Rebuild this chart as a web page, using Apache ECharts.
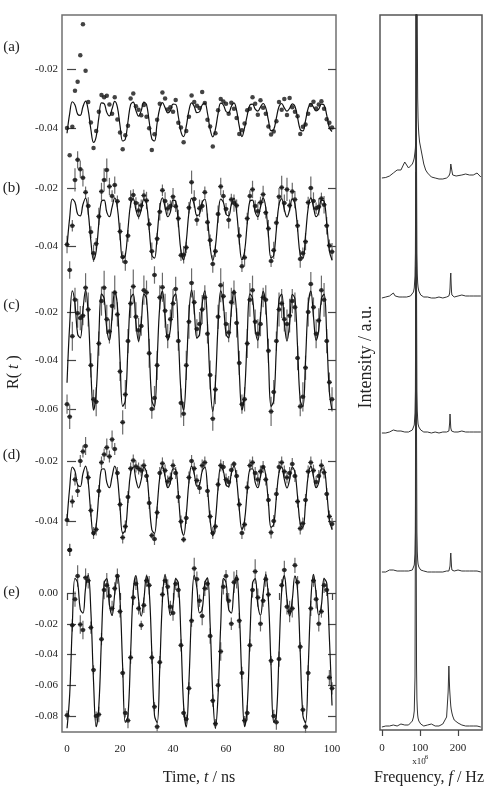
<!DOCTYPE html>
<html>
<head>
<meta charset="utf-8">
<script src="https://cdn.jsdelivr.net/npm/echarts@6/dist/echarts.min.js"></script>
<style>
html, body { margin: 0; padding: 0; background: #fff; }
#chart { width: 488px; height: 790px; }
</style>
</head>
<body>
<div id="chart"></div>
<script>
// time of every sample, ns
var timeNs = [0,1,2,3,4,5,6,7,8,9,10,11,12,13,14,15,16,17,18,19,20,21,22,23,24,25,26,27,28,29,30,
  31,32,33,34,35,36,37,38,39,40,41,42,43,44,45,46,47,48,49,50,51,52,53,54,55,56,57,58,59,60,
  61,62,63,64,65,66,67,68,69,70,71,72,73,74,75,76,77,78,79,80,81,82,83,84,85,86,87,88,89,90,
  91,92,93,94,95,96,97,98,99,100];

// (a) fit and measured R(t)
var fitA = [-0.0418,-0.0351,-0.0311,-0.0322,-0.0353,-0.0357,-0.0328,-0.0309,-0.0340,-0.0405,
  -0.0449,-0.0429,-0.0365,-0.0315,-0.0317,-0.0347,-0.0359,-0.0335,-0.0310,-0.0329,
  -0.0392,-0.0444,-0.0438,-0.0378,-0.0321,-0.0312,-0.0341,-0.0360,-0.0341,-0.0312,
  -0.0321,-0.0378,-0.0437,-0.0444,-0.0383,-0.0333,-0.0314,-0.0331,-0.0349,-0.0341,
  -0.0319,-0.0320,-0.0361,-0.0413,-0.0429,-0.0394,-0.0341,-0.0315,-0.0327,-0.0348,
  -0.0345,-0.0322,-0.0316,-0.0350,-0.0404,-0.0430,-0.0404,-0.0351,-0.0316,-0.0322,
  -0.0344,-0.0348,-0.0327,-0.0315,-0.0341,-0.0394,-0.0429,-0.0399,-0.0357,-0.0322,
  -0.0319,-0.0336,-0.0343,-0.0329,-0.0317,-0.0332,-0.0374,-0.0409,-0.0405,-0.0366,
  -0.0327,-0.0317,-0.0332,-0.0343,-0.0333,-0.0318,-0.0326,-0.0365,-0.0405,-0.0410,
  -0.0375,-0.0333,-0.0317,-0.0329,-0.0342,-0.0336,-0.0319,-0.0322,-0.0356,-0.0399,-0.0412];
var dataA = [-0.0400,-0.0492,-0.0396,-0.0274,-0.0243,-0.0153,-0.0048,-0.0206,-0.0312,-0.0381,
  -0.0468,-0.0410,-0.0345,-0.0288,-0.0296,-0.0291,-0.0320,-0.0352,-0.0296,-0.0371,
  -0.0415,-0.0472,-0.0425,-0.0392,-0.0300,-0.0283,-0.0326,-0.0338,-0.0357,-0.0322,
  -0.0362,-0.0401,-0.0475,-0.0421,-0.0372,-0.0318,-0.0280,-0.0300,-0.0337,-0.0330,
  -0.0345,-0.0305,-0.0382,-0.0398,-0.0448,-0.0410,-0.0362,-0.0290,-0.0312,-0.0325,
  -0.0332,-0.0278,-0.0315,-0.0372,-0.0395,-0.0463,-0.0418,-0.0340,-0.0302,-0.0310,
  -0.0318,-0.0352,-0.0314,-0.0335,-0.0366,-0.0420,-0.0408,-0.0385,-0.0340,-0.0335,
  -0.0296,-0.0318,-0.0355,-0.0306,-0.0331,-0.0352,-0.0395,-0.0422,-0.0412,-0.0377,
  -0.0312,-0.0338,-0.0302,-0.0356,-0.0298,-0.0330,-0.0345,-0.0360,-0.0420,-0.0396,
  -0.0388,-0.0352,-0.0322,-0.0311,-0.0334,-0.0320,-0.0309,-0.0335,-0.0370,-0.0382,-0.0398];

// (b)
var fitB = [-0.0402,-0.0302,-0.0238,-0.0249,-0.0290,-0.0296,-0.0257,-0.0235,-0.0284,-0.0383,
  -0.0448,-0.0418,-0.0322,-0.0245,-0.0242,-0.0283,-0.0299,-0.0266,-0.0234,-0.0268,
  -0.0363,-0.0442,-0.0432,-0.0342,-0.0255,-0.0237,-0.0275,-0.0300,-0.0275,-0.0237,
  -0.0255,-0.0342,-0.0431,-0.0442,-0.0363,-0.0268,-0.0234,-0.0266,-0.0299,-0.0283,
  -0.0242,-0.0245,-0.0321,-0.0418,-0.0448,-0.0384,-0.0284,-0.0235,-0.0257,-0.0295,
  -0.0290,-0.0249,-0.0238,-0.0302,-0.0401,-0.0450,-0.0402,-0.0303,-0.0238,-0.0249,
  -0.0290,-0.0296,-0.0257,-0.0235,-0.0283,-0.0382,-0.0448,-0.0419,-0.0322,-0.0245,
  -0.0242,-0.0283,-0.0299,-0.0266,-0.0234,-0.0268,-0.0362,-0.0441,-0.0432,-0.0343,
  -0.0256,-0.0237,-0.0274,-0.0300,-0.0275,-0.0237,-0.0255,-0.0341,-0.0431,-0.0442,
  -0.0364,-0.0269,-0.0234,-0.0266,-0.0299,-0.0283,-0.0242,-0.0245,-0.0321,-0.0417,-0.0448];
var dataB = [-0.0395,-0.0483,-0.0330,-0.0172,-0.0103,-0.0135,-0.0165,-0.0215,-0.0262,-0.0352,
  -0.0425,-0.0392,-0.0298,-0.0212,-0.0172,-0.0138,-0.0195,-0.0228,-0.0190,-0.0246,
  -0.0350,-0.0438,-0.0455,-0.0365,-0.0238,-0.0224,-0.0252,-0.0278,-0.0260,-0.0226,
  -0.0243,-0.0325,-0.0418,-0.0500,-0.0375,-0.0282,-0.0208,-0.0245,-0.0271,-0.0262,
  -0.0230,-0.0263,-0.0305,-0.0432,-0.0430,-0.0405,-0.0268,-0.0180,-0.0238,-0.0310,
  -0.0270,-0.0262,-0.0215,-0.0318,-0.0380,-0.0462,-0.0418,-0.0290,-0.0195,-0.0228,
  -0.0272,-0.0310,-0.0240,-0.0252,-0.0260,-0.0365,-0.0470,-0.0440,-0.0305,-0.0228,
  -0.0205,-0.0262,-0.0280,-0.0250,-0.0222,-0.0285,-0.0340,-0.0452,-0.0415,-0.0320,
  -0.0230,-0.0198,-0.0252,-0.0205,-0.0260,-0.0212,-0.0240,-0.0330,-0.0445,-0.0425,
  -0.0385,-0.0250,-0.0200,-0.0245,-0.0270,-0.0265,-0.0236,-0.0258,-0.0330,-0.0398,-0.0420];
// error half-widths, units of 0.001
var errB = [3,3,2,4,3,3,3,2,3,2, 3,2,3,3,4,4,3,2,3,2, 3,2,3,2,3,2,2,3,2,2, 3,2,3,3,2,3,2,3,2,2,
  3,2,3,2,3,2,2,4,3,2, 3,2,2,3,2,3,2,3,3,2, 2,3,2,3,2,3,2,3,2,2, 3,2,3,2,3,2,3,2,3,2,
  3,4,3,4,2,3,3,2,3,2, 3,2,4,3,2,3,2,3,3,2, 3];

// (c)
var fitC = [-0.0492,-0.0252,-0.0113,-0.0167,-0.0291,-0.0307,-0.0193,-0.0110,-0.0210,-0.0446,
  -0.0605,-0.0532,-0.0299,-0.0125,-0.0144,-0.0270,-0.0317,-0.0220,-0.0114,-0.0174,
  -0.0397,-0.0589,-0.0565,-0.0348,-0.0146,-0.0126,-0.0246,-0.0320,-0.0246,-0.0126,
  -0.0145,-0.0347,-0.0564,-0.0590,-0.0398,-0.0175,-0.0114,-0.0219,-0.0317,-0.0271,
  -0.0145,-0.0125,-0.0297,-0.0531,-0.0605,-0.0447,-0.0210,-0.0110,-0.0192,-0.0307,
  -0.0292,-0.0167,-0.0113,-0.0251,-0.0490,-0.0610,-0.0493,-0.0253,-0.0113,-0.0166,
  -0.0290,-0.0307,-0.0193,-0.0110,-0.0209,-0.0445,-0.0604,-0.0533,-0.0300,-0.0125,
  -0.0143,-0.0270,-0.0317,-0.0220,-0.0115,-0.0173,-0.0396,-0.0589,-0.0565,-0.0349,
  -0.0147,-0.0126,-0.0245,-0.0320,-0.0247,-0.0127,-0.0145,-0.0346,-0.0564,-0.0590,
  -0.0400,-0.0175,-0.0114,-0.0219,-0.0317,-0.0272,-0.0145,-0.0126,-0.0297,-0.0530,-0.0605];
var dataC = [-0.0580,-0.0632,-0.0300,-0.0150,-0.0205,-0.0225,-0.0215,-0.0100,-0.0190,-0.0420,
  -0.0560,-0.0570,-0.0330,-0.0155,-0.0100,-0.0230,-0.0280,-0.0175,-0.0120,-0.0210,
  -0.0445,-0.0655,-0.0540,-0.0320,-0.0165,-0.0095,-0.0220,-0.0275,-0.0258,-0.0110,
  -0.0120,-0.0370,-0.0600,-0.0555,-0.0420,-0.0140,-0.0098,-0.0195,-0.0300,-0.0230,
  -0.0165,-0.0105,-0.0320,-0.0575,-0.0620,-0.0420,-0.0240,-0.0080,-0.0160,-0.0270,
  -0.0250,-0.0190,-0.0140,-0.0290,-0.0460,-0.0640,-0.0520,-0.0220,-0.0090,-0.0135,
  -0.0250,-0.0285,-0.0160,-0.0120,-0.0245,-0.0410,-0.0580,-0.0560,-0.0330,-0.0150,
  -0.0110,-0.0240,-0.0290,-0.0250,-0.0140,-0.0150,-0.0360,-0.0610,-0.0530,-0.0320,
  -0.0190,-0.0165,-0.0230,-0.0250,-0.0215,-0.0155,-0.0180,-0.0390,-0.0590,-0.0550,
  -0.0430,-0.0200,-0.0085,-0.0180,-0.0290,-0.0235,-0.0110,-0.0150,-0.0320,-0.0490,-0.0560];
var errC = [4,5,6,5,6,5,4,6,7,5, 4,6,5,6,7,6,5,6,7,5, 4,5,6,5,6,7,6,5,4,6, 5,6,4,5,6,5,6,7,5,4,
  6,5,4,6,5,6,7,6,5,4, 5,6,5,4,6,5,6,5,7,6, 5,4,6,5,6,5,4,5,6,7, 6,5,6,5,4,6,5,6,5,4,
  7,6,5,6,7,5,6,5,4,6, 5,6,5,4,6,5,6,7,5,4, 5];

// (d)
var fitD = [-0.0398,-0.0289,-0.0220,-0.0234,-0.0279,-0.0285,-0.0242,-0.0217,-0.0270,-0.0377,
  -0.0448,-0.0415,-0.0311,-0.0228,-0.0226,-0.0271,-0.0289,-0.0252,-0.0217,-0.0253,
  -0.0355,-0.0441,-0.0430,-0.0333,-0.0239,-0.0220,-0.0262,-0.0290,-0.0262,-0.0220,
  -0.0239,-0.0333,-0.0429,-0.0441,-0.0355,-0.0253,-0.0217,-0.0252,-0.0289,-0.0271,
  -0.0226,-0.0228,-0.0310,-0.0415,-0.0448,-0.0378,-0.0270,-0.0217,-0.0242,-0.0284,
  -0.0279,-0.0234,-0.0220,-0.0289,-0.0397,-0.0450,-0.0398,-0.0290,-0.0220,-0.0234,
  -0.0279,-0.0285,-0.0242,-0.0217,-0.0262,-0.0360,-0.0428,-0.0398,-0.0300,-0.0228,
  -0.0226,-0.0271,-0.0289,-0.0252,-0.0217,-0.0249,-0.0340,-0.0421,-0.0411,-0.0321,
  -0.0238,-0.0220,-0.0261,-0.0290,-0.0262,-0.0220,-0.0237,-0.0320,-0.0410,-0.0421,
  -0.0342,-0.0249,-0.0217,-0.0252,-0.0289,-0.0271,-0.0226,-0.0228,-0.0299,-0.0396,-0.0428];
var dataD = [-0.0397,-0.0497,-0.0335,-0.0262,-0.0300,-0.0200,-0.0168,-0.0150,-0.0255,-0.0365,
  -0.0440,-0.0428,-0.0300,-0.0205,-0.0178,-0.0155,-0.0185,-0.0128,-0.0160,-0.0240,
  -0.0345,-0.0455,-0.0418,-0.0320,-0.0225,-0.0198,-0.0218,-0.0225,-0.0232,-0.0215,
  -0.0250,-0.0340,-0.0448,-0.0460,-0.0372,-0.0240,-0.0208,-0.0232,-0.0268,-0.0258,
  -0.0215,-0.0240,-0.0320,-0.0402,-0.0462,-0.0390,-0.0255,-0.0200,-0.0225,-0.0265,
  -0.0290,-0.0215,-0.0205,-0.0300,-0.0385,-0.0440,-0.0418,-0.0278,-0.0215,-0.0220,
  -0.0262,-0.0270,-0.0230,-0.0210,-0.0250,-0.0345,-0.0440,-0.0412,-0.0288,-0.0215,
  -0.0205,-0.0240,-0.0262,-0.0235,-0.0220,-0.0262,-0.0330,-0.0438,-0.0400,-0.0310,
  -0.0220,-0.0205,-0.0235,-0.0255,-0.0240,-0.0210,-0.0250,-0.0335,-0.0425,-0.0408,
  -0.0330,-0.0235,-0.0205,-0.0232,-0.0270,-0.0250,-0.0215,-0.0238,-0.0310,-0.0385,-0.0410];
var errD = [2,2,2,2,2,2,2,3,2,2, 2,2,2,2,2,3,2,3,2,2, 2,2,2,2,2,2,2,2,2,2, 2,2,1,2,2,2,2,2,2,2,
  2,2,2,2,1,2,2,2,2,2, 2,2,2,2,2,2,2,2,2,2, 2,2,2,1,2,2,2,2,2,2, 2,2,2,2,2,2,2,2,2,2,
  2,2,2,2,2,2,2,2,2,2, 2,2,2,2,2,2,2,2,2,2, 2];

// (e)
var fitE = [-0.0880,-0.0661,-0.0204,0.0096,0.0066,-0.0107,-0.0131,0.0032,0.0116,-0.0121,
  -0.0575,-0.0870,-0.0735,-0.0296,0.0063,0.0094,-0.0077,-0.0145,-0.0005,0.0121,
  -0.0046,-0.0483,-0.0842,-0.0797,-0.0390,0.0014,0.0113,-0.0042,-0.0150,-0.0042,
  0.0112,0.0016,-0.0388,-0.0795,-0.0843,-0.0485,-0.0048,0.0121,-0.0004,-0.0145,
  -0.0078,0.0093,0.0064,-0.0293,-0.0734,-0.0871,-0.0578,-0.0122,0.0115,0.0033,
  -0.0130,-0.0108,0.0065,0.0098,-0.0203,-0.0658,-0.0880,-0.0662,-0.0207,0.0096,
  0.0067,-0.0106,-0.0131,0.0031,0.0116,-0.0118,-0.0572,-0.0870,-0.0737,-0.0297,
  0.0062,0.0094,-0.0076,-0.0146,-0.0006,0.0121,-0.0044,-0.0481,-0.0841,-0.0798,
  -0.0393,0.0013,0.0113,-0.0041,-0.0150,-0.0044,0.0112,0.0017,-0.0385,-0.0795,
  -0.0844,-0.0488,-0.0050,0.0121,-0.0004,-0.0145,-0.0079,0.0093,0.0065,-0.0291,-0.0732];
var dataE = [-0.0795,0.0280,-0.0210,-0.0040,0.0110,-0.0205,-0.0240,0.0100,0.0080,-0.0225,
  -0.0500,-0.0800,-0.0790,-0.0300,0.0020,0.0050,-0.0020,-0.0100,0.0030,0.0110,
  -0.0120,-0.0520,-0.0780,-0.0830,-0.0420,-0.0030,0.0060,-0.0100,-0.0210,-0.0080,
  0.0080,0.0050,-0.0420,-0.0740,-0.0870,-0.0450,-0.0010,0.0080,0.0040,-0.0090,
  -0.0130,0.0060,0.0020,-0.0340,-0.0780,-0.0820,-0.0620,-0.0180,0.0160,0.0090,
  -0.0050,-0.0150,0.0030,0.0060,-0.0280,-0.0700,-0.0850,-0.0600,-0.0380,0.0040,
  0.0110,-0.0050,-0.0200,0.0070,0.0090,-0.0180,-0.0520,-0.0830,-0.0780,-0.0340,
  0.0020,0.0140,-0.0030,-0.0200,-0.0050,0.0090,-0.0010,-0.0440,-0.0800,-0.0840,
  -0.0430,0.0050,0.0150,-0.0090,-0.0120,-0.0100,0.0180,0.0070,-0.0350,-0.0760,
  -0.0870,-0.0520,-0.0100,0.0080,-0.0040,-0.0200,-0.0120,0.0050,0.0020,-0.0550,-0.0620];
var errE = [3,4,4,5,7,6,6,6,5,4, 3,3,5,4,6,8,6,5,4,5, 4,3,3,5,4,5,4,4,3,5, 4,6,4,3,3,4,5,3,5,4,
  5,4,5,4,3,3,4,4,7,5, 4,6,5,4,5,4,3,4,6,5, 4,5,4,7,6,5,4,3,5,4, 5,8,6,5,4,5,4,3,4,5,
  5,4,6,5,7,6,5,4,3,3, 4,5,5,4,6,5,4,5,4,5, 4];

// Fourier spectra, frequency in units of 10^6 Hz, intensity a.u.
var freqMHz = [0,5,10,15,20,25,30,35,40,45,50,55,60,65,70,75,80,83,85,87,88,89,90,91,92,93,94,95,96,97,
  99,102,105,110,115,120,125,130,140,150,160,170,174,176,177,178,179,180,181,182,183,184,186,
  190,195,200,210,220,230,235,240,245,250,255,260];
var specA = [0,0,0.5,1,2,4,5,6,8,6,8,12,16,13,10,11,14,17,20,26,30,38,60,140,320,150,80,60,50,44,
  36,30,24,14,8,5,3,1,0,-1,-1,0,1,2,2,3,5,9,14,16,12,7,3,
  1,2,4,3,4,3,4,3,2,5,4,1];
var specB = [0,0,1,1,2,4,5,2,1,1,1,1,2,1,2,2,3,6,10,22,45,140,400,140,45,24,15,11,9,7,
  5,3,2,1,1,1,1,0,0,1,0,1,1,2,3,5,10,20,25,14,6,3,2,
  1,2,2,3,2,2,1,2,2,2,1,2];
var specC = [0,0,0,1,1,2,3,3,2,2,2,2,1,1,1,2,3,5,8,20,42,150,420,150,42,22,14,9,7,6,
  4,3,2,1,1,1,0,0,1,0,1,1,1,2,4,10,19,12,5,3,2,1,1,
  1,1,1,2,1,1,1,1,1,1,1,1];
var specD = [0,0,0,1,2,3,2,1,1,1,1,1,1,1,1,1,2,4,7,18,40,140,400,140,40,20,12,8,6,5,
  3,2,2,1,1,0,0,0,0,0,0,1,1,1,2,3,6,14,19,12,5,2,1,
  1,1,2,1,1,1,1,1,1,1,1,0];
var specE = [0,1,1,1,1,2,2,1,1,2,3,3,2,1,2,3,6,10,16,50,200,460,200,60,28,18,12,9,7,6,
  4,3,2,1,2,2,1,3,1,1,3,10,35,61,48,38,32,26,21,18,16,14,11,
  7,5,4,2,1,1,1,1,2,1,0,0];

// layout
var serif = 'Liberation Serif';
var leftRect = { left: 62, top: 15, width: 274, height: 717 };
var rightRect = { left: 380, top: 15, width: 102, height: 715 };
// value range of each left panel over the full frame height (places the ticks)
var yRanges = [[-0.24475, -0.001695], [-0.207586, 0.039655], [-0.193196, 0.102474],
  [-0.110333, 0.128667], [-0.090406, 0.375935]];
var yTicks = [[-0.04, -0.02], [-0.04, -0.02], [-0.06, -0.04, -0.02], [-0.04, -0.02],
  [-0.08, -0.06, -0.04, -0.02, 0]];
var specOffsets = [552, 432, 297, 158, 3];

var panels = [
  { fit: fitA, data: dataA, err: null },
  { fit: fitB, data: dataB, err: errB },
  { fit: fitC, data: dataC, err: errC },
  { fit: fitD, data: dataD, err: errD },
  { fit: fitE, data: dataE, err: errE }
];
var spectra = [specA, specB, specC, specD, specE];

var grids = [], xAxes = [], yAxes = [], series = [];

panels.forEach(function (p, i) {
  grids.push({
    left: leftRect.left, top: leftRect.top, width: leftRect.width, height: leftRect.height,
    show: i === 0, borderColor: '#707070', borderWidth: 1.5, backgroundColor: 'transparent'
  });
  xAxes.push({
    gridIndex: i, type: 'value', min: -1.9, max: 101.5,
    show: i === 4,
    axisLine: { show: false },
    splitLine: { show: false },
    axisTick: { show: true, inside: false, length: 7, customValues: [0, 20, 40, 60, 80, 100],
      lineStyle: { color: '#444', width: 1.2 } },
    axisLabel: { customValues: [0, 20, 40, 60, 80, 100], margin: 12,
      fontFamily: serif, fontSize: 11, color: '#222' }
  });
  yAxes.push({
    gridIndex: i, type: 'value', position: 'left', min: yRanges[i][0], max: yRanges[i][1],
    axisLine: { show: false },
    splitLine: { show: false },
    axisTick: { show: true, inside: true, length: 9, customValues: yTicks[i],
      lineStyle: { color: '#444', width: 1.2 } },
    axisLabel: { customValues: yTicks[i], margin: 4, fontFamily: serif, fontSize: 11, color: '#222',
      formatter: function (v) { return v.toFixed(2); } }
  });
  yAxes.push({
    gridIndex: i, type: 'value', position: 'right', min: yRanges[i][0], max: yRanges[i][1],
    axisLine: { show: false },
    splitLine: { show: false },
    axisTick: { show: true, inside: true, length: 8, customValues: yTicks[i],
      lineStyle: { color: '#444', width: 1.2 } },
    axisLabel: { show: false }
  });

  if (p.err) {
    // vertical error bar plus a short cross stroke at the point
    series.push({
      type: 'custom', xAxisIndex: i, yAxisIndex: 2 * i, z: 1,
      data: timeNs.map(function (t, k) { return [t, p.data[k], p.err[k] * 0.001]; }),
      renderItem: function (params, api) {
        var a = api.coord([api.value(0), api.value(1) - api.value(2)]);
        var b = api.coord([api.value(0), api.value(1) + api.value(2)]);
        var c = api.coord([api.value(0), api.value(1)]);
        return {
          type: 'group',
          children: [
            { type: 'line', shape: { x1: a[0], y1: a[1], x2: b[0], y2: b[1] },
              style: { stroke: '#6a6a6a', lineWidth: 1.2 } },
            { type: 'line', shape: { x1: c[0] - 2.5, y1: c[1], x2: c[0] + 2.5, y2: c[1] },
              style: { stroke: '#333', lineWidth: 1 } }
          ]
        };
      }
    });
  }
  series.push({
    type: 'line', xAxisIndex: i, yAxisIndex: 2 * i, z: 2,
    data: timeNs.map(function (t, k) { return [t, p.fit[k]]; }),
    smooth: 0.4, showSymbol: false, symbol: 'none',
    lineStyle: { color: '#111', width: 1.2 }
  });
  series.push({
    type: 'scatter', xAxisIndex: i, yAxisIndex: 2 * i, z: 3,
    data: timeNs.map(function (t, k) { return [t, p.data[k]]; }),
    symbolSize: 4.5, itemStyle: { color: '#141414' }
  });
});

// right: spectra
grids.push({
  left: rightRect.left, top: rightRect.top, width: rightRect.width, height: rightRect.height,
  show: true, borderColor: '#555', borderWidth: 1.5, backgroundColor: 'transparent'
});
xAxes.push({
  gridIndex: 5, type: 'value', min: -5, max: 263,
  axisLine: { show: false }, splitLine: { show: false },
  axisTick: { inside: false, length: 6, customValues: [0, 100, 200], lineStyle: { color: '#444', width: 1.2 } },
  axisLabel: { customValues: [0, 100, 200], margin: 13, fontFamily: serif, fontSize: 11, color: '#222' }
});
yAxes.push({
  gridIndex: 5, type: 'value', min: 0, max: 715, show: false
});
spectra.forEach(function (s, j) {
  series.push({
    type: 'line', xAxisIndex: 5, yAxisIndex: 10, z: 2, clip: true,
    data: freqMHz.map(function (f, k) { return [f, s[k] + specOffsets[j]]; }),
    symbol: 'none', showSymbol: false,
    lineStyle: { color: '#333', width: 1 }
  });
});

function label(text, x, y, size, rot) {
  return {
    type: 'text', x: x, y: y, rotation: rot || 0, silent: true,
    style: { text: text, textAlign: 'center', textVerticalAlign: 'middle',
      font: size + 'px "' + serif + '"', fill: '#222' }
  };
}
function richLabel(parts, x, y, size, rot) {
  return {
    type: 'text', x: x, y: y, rotation: rot || 0, silent: true,
    style: {
      text: parts, textAlign: 'center', textVerticalAlign: 'middle', fill: '#222',
      font: size + 'px "' + serif + '"',
      rich: {
        n: { fontFamily: serif, fontSize: size, fill: '#222' },
        i: { fontFamily: serif, fontSize: size, fontStyle: 'italic', fill: '#222' }
      }
    }
  };
}

var chart = echarts.init(document.getElementById('chart'));
chart.setOption({
  animation: false,
  backgroundColor: '#fff',
  textStyle: { fontFamily: serif },
  grid: grids,
  xAxis: xAxes,
  yAxis: yAxes,
  series: series,
  graphic: [
    label('(a)', 11.5, 47, 15),
    label('(b)', 11.5, 188, 15),
    label('(c)', 11.5, 305, 15),
    label('(d)', 11.5, 455, 15),
    label('(e)', 11.5, 592.5, 15),
    richLabel('{n|R( }{i|t}{n| )}', 14, 372, 16, Math.PI / 2),
    richLabel('{n|Time, }{i|t}{n| / ns}', 199, 778, 16),
    label('Intensity / a.u.', 366, 357, 18, Math.PI / 2),
    richLabel('{n|Frequency, }{i|f}{n| / Hz}', 429, 778, 16),
    label('x10', 419, 762, 9),
    label('6', 426.5, 757, 7)
  ]
});
</script>
</body>
</html>
